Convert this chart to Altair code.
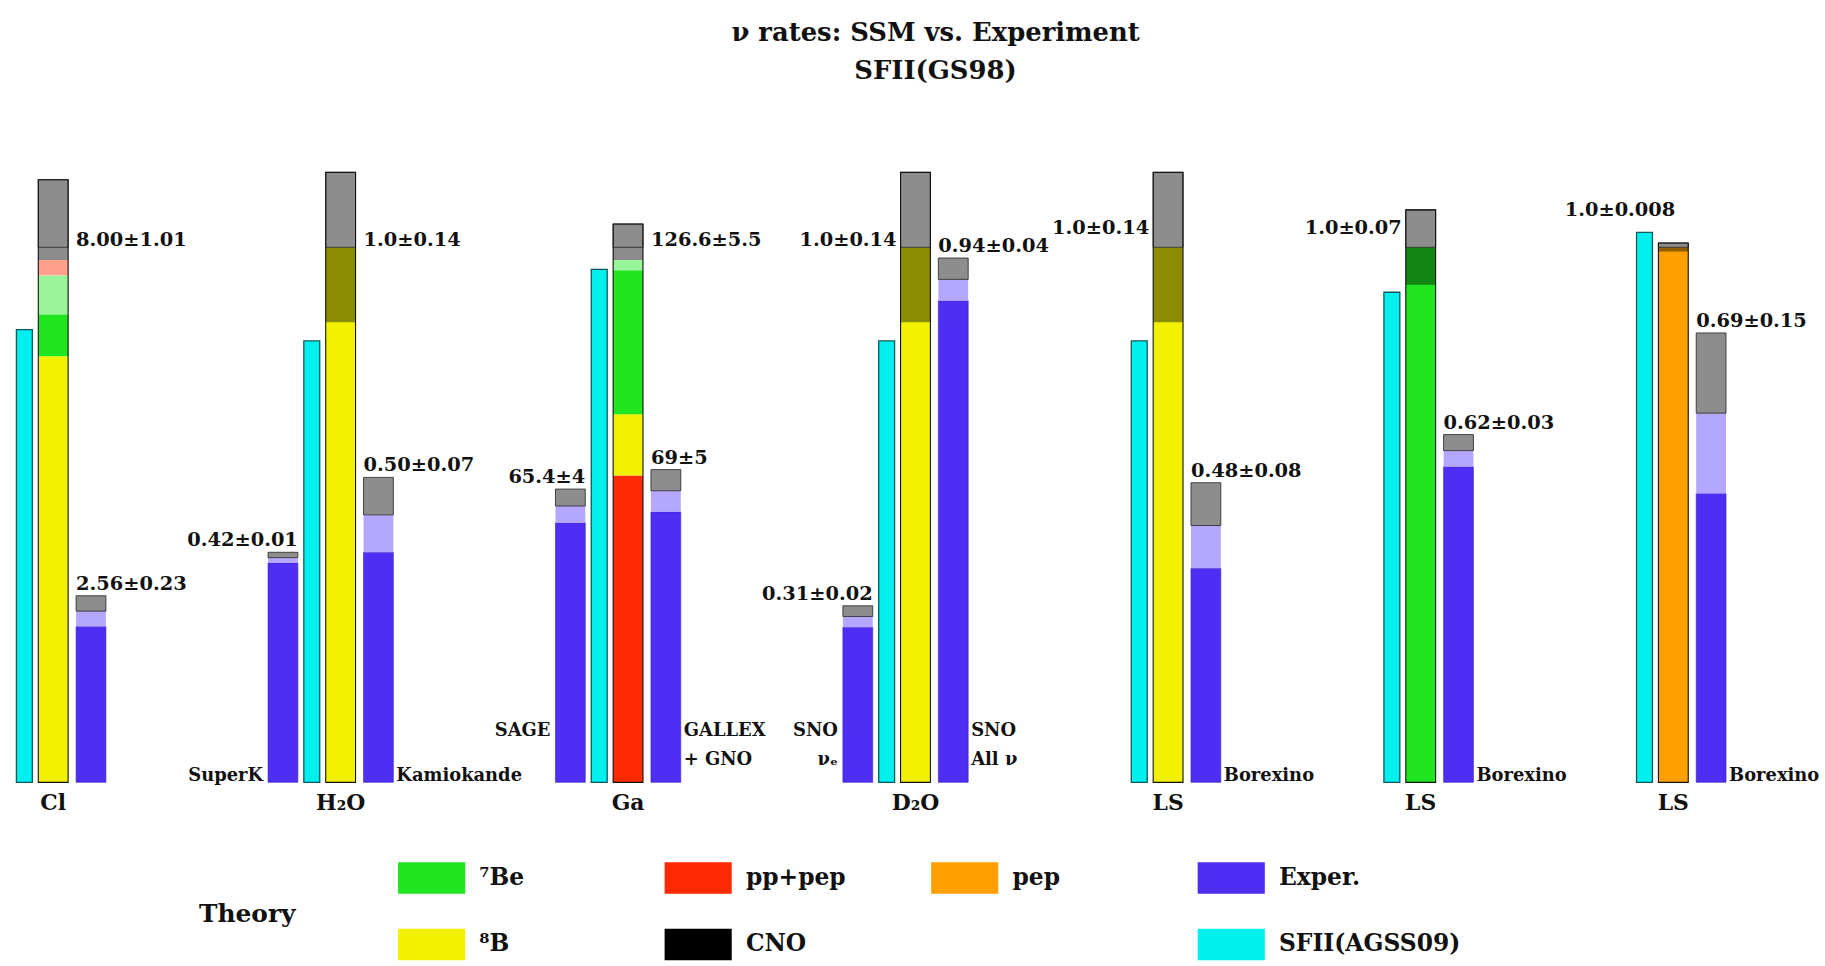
import json
from itertools import accumulate

import altair as alt
import pandas as pd

# ---------------------------------------------------------------- data
GROUPS = ["Cl", "H₂O", "Ga", "D₂O", "LS", "LS", "LS"]

# standard solar model (SFII, GS98) prediction per detector
THEORY_VALUE = [8.00, 1.0, 126.6, 1.0, 1.0, 1.0, 1.0]
THEORY_ERR = [1.01, 0.14, 5.5, 0.14, 0.14, 0.07, 0.008]
THEORY_LABEL = ["8.00±1.01", "1.0±0.14", "126.6±5.5", "1.0±0.14",
                "1.0±0.14", "1.0±0.07", "1.0±0.008"]

# flux contributions stacked in each theory bar, bottom to top
THEORY_PARTS = [
    ["⁸B", "⁷Be", "pp+pep", "CNO"],
    ["⁸B"],
    ["pp+pep", "⁸B", "⁷Be", "CNO"],
    ["⁸B"],
    ["⁸B"],
    ["⁷Be"],
    ["pep"],
]
THEORY_PART_VALUES = [
    [6.37, 1.21, 0.23, 0.19],
    [1.0],
    [72.6, 14.5, 36.5, 3.0],
    [1.0],
    [1.0],
    [1.0],
    [1.0],
]

# SFII with AGSS09 composition
AGSS09_VALUE = [6.77, 0.825, 121.4, 0.825, 0.825, 0.916, 1.028]

# measurements drawn left of the model bars
EXP_LEFT_VALUE = [None, 0.42, 65.4, 0.31, None, None, None]
EXP_LEFT_ERR = [None, 0.01, 4, 0.02, None, None, None]
EXP_LEFT_LABEL = [None, "0.42±0.01", "65.4±4", "0.31±0.02", None, None, None]
EXP_LEFT_NAME = [None, "SuperK", "SAGE", "SNO\nνₑ", None, None, None]

# measurements drawn right of the model bars
EXP_RIGHT_VALUE = [2.56, 0.50, 69, 0.94, 0.48, 0.62, 0.69]
EXP_RIGHT_ERR = [0.23, 0.07, 5, 0.04, 0.08, 0.03, 0.15]
EXP_RIGHT_LABEL = ["2.56±0.23", "0.50±0.07", "69±5", "0.94±0.04",
                   "0.48±0.08", "0.62±0.03", "0.69±0.15"]
EXP_RIGHT_NAME = ["", "Kamiokande", "GALLEX\n+ GNO", "SNO\nAll ν",
                  "Borexino", "Borexino", "Borexino"]

LEGEND_NAMES = ["⁷Be", "pp+pep", "pep", "Exper.", "⁸B", "CNO", " ", "SFII(AGSS09)"]
LEGEND_COLORS = ["#1fe61f", "#ff2a00", "#ffa000", "#4d2ef2",
                 "#f2f200", "#000000", "#ffffff", "#00efef"]

# where each theory label sits relative to its bar
THEORY_LABEL_SIDE = ["right", "right", "right", "left", "left-high", "left-high", "above"]

# ---------------------------------------------------------------- layout
FONT = "DejaVu Serif"
SLOT_STEP = 29
R_SHIFT = 9               # right-hand measurement sits a little apart
LEFT_EXTRA = 6            # extra room before a left-hand measurement
BAR_W = 30
CYAN_W = 16
PANEL_H = 683
CENTRAL_PX = 538          # pixel height of every model central value
GREY = "#8d8d8d"
LILAC = "#b4a7ff"

color_scale = alt.Scale(domain=LEGEND_NAMES, range=LEGEND_COLORS)
legend = alt.Legend(
    orient="none", legendX=190, legendY=745, columns=4, direction="horizontal",
    padding=0,
    symbolType="M-1,-0.47H1V0.47H-1Z", symbolSize=4556, symbolStrokeWidth=0,
    symbolOpacity=1, gridAlign="all", columnPadding=3, rowPadding=17,
    labelFont=FONT, labelFontSize=23.5, labelFontWeight="bold", labelColor="#111",
    labelOffset=14, labelLimit=300,
    title="Theory", titleOrient="left", titleFont=FONT, titleFontSize=25,
    titleFontWeight="bold", titleColor="#111", titlePadding=102,
    titleAnchor="middle", titleBaseline="top",
)


def panel(i):
    has_left = EXP_LEFT_VALUE[i] is not None
    slots = (["L"] if has_left else []) + ["C", "T", "R"]
    extra = LEFT_EXTRA if has_left else 0
    width = SLOT_STEP * len(slots) + extra
    ymax = THEORY_VALUE[i] * PANEL_H / CENTRAL_PX
    yscale = alt.Scale(domain=[0, ymax], nice=False, zero=True)

    x = alt.X(
        "slot:N",
        scale=alt.Scale(domain=slots, paddingInner=0,
                        paddingOuter=extra / 2 / SLOT_STEP, align=1),
        axis=alt.Axis(
            title=None, domain=False, ticks=False, labelAngle=0,
            labelExpr=f"datum.value == 'T' ? {json.dumps(GROUPS[i])} : ''",
            labelFont=FONT, labelFontSize=22, labelFontWeight="bold",
            labelColor="#111", labelPadding=10,
        ),
    )

    def Y(field):
        return alt.Y(f"{field}:Q", scale=yscale, axis=None)

    color = alt.Color("part:N", scale=color_scale, legend=legend)
    txt = dict(font=FONT, fontSize=19.5, fontWeight="bold", color="#111")

    # model with AGSS09 composition
    cyan_df = pd.DataFrame({"slot": ["C"], "part": ["SFII(AGSS09)"],
                            "v": [AGSS09_VALUE[i]]})
    cyan = alt.Chart(cyan_df).mark_bar(
        width=CYAN_W, stroke="#0b5a5a", strokeWidth=1.3
    ).encode(x=x, y=Y("v"), color=color)

    # stacked contributions of the GS98 model
    vals = THEORY_PART_VALUES[i]
    tops = list(accumulate(vals))
    stack_df = pd.DataFrame({
        "slot": "T",
        "part": THEORY_PARTS[i],
        "y0": [t - v for t, v in zip(tops, vals)],
        "y1": tops,
    })
    stack = alt.Chart(stack_df).mark_bar(width=BAR_W).encode(
        x=x, y=Y("y0"), y2="y1", color=color)

    th_df = pd.DataFrame({"slot": ["T"], "v": [THEORY_VALUE[i]],
                          "e": [THEORY_ERR[i]], "label": [THEORY_LABEL[i]]})
    th = alt.Chart(th_df).transform_calculate(
        lo="datum.v - datum.e", hi="datum.v + datum.e")

    multi = len(THEORY_PARTS[i]) > 1
    lower = th.mark_bar(
        width=BAR_W, color="#ffffff" if multi else "#000000",
        opacity=0.55 if multi else 0.42,
    ).encode(x=x, y=Y("lo"), y2="v")
    upper = th.mark_bar(width=BAR_W, color=GREY, stroke="#222",
                        strokeWidth=0.8).encode(x=x, y=Y("v"), y2="hi")
    outline = th.mark_bar(width=BAR_W, filled=False, stroke="#111",
                          strokeWidth=1.1).encode(x=x, y=Y("hi"))

    side = THEORY_LABEL_SIDE[i]
    if side == "right":
        th_text = th.mark_text(align="left", baseline="alphabetic",
                               dx=BAR_W / 2 + 8, dy=-1, **txt).encode(
            x=x, y=Y("v"), text="label:N")
    elif side in ("left", "left-high"):
        th_text = th.mark_text(align="right", baseline="alphabetic",
                               dx=-BAR_W / 2 - 4,
                               dy=-1 if side == "left" else -13, **txt).encode(
            x=x, y=Y("v"), text="label:N")
    else:
        th_text = th.mark_text(align="right", baseline="alphabetic",
                               dx=2, dy=-27, **txt).encode(
            x=x, y=Y("hi"), text="label:N")

    layers = [cyan, stack, lower, upper, outline, th_text]

    # measurements
    rows = []
    if has_left:
        rows.append(dict(slot="L", v=EXP_LEFT_VALUE[i], e=EXP_LEFT_ERR[i],
                         label=EXP_LEFT_LABEL[i], name=EXP_LEFT_NAME[i]))
    rows.append(dict(slot="R", v=EXP_RIGHT_VALUE[i], e=EXP_RIGHT_ERR[i],
                     label=EXP_RIGHT_LABEL[i], name=EXP_RIGHT_NAME[i]))
    exp_df = pd.DataFrame(rows)
    exp_df["part"] = "Exper."
    raised = any("\n" in n for n in exp_df["name"])
    zero = alt.Y(datum=0, scale=yscale, axis=None)

    for r in rows:
        s = r["slot"]
        off = 0 if s == "L" else R_SHIFT
        ex = alt.Chart(exp_df).transform_filter(
            f"datum.slot == '{s}'"
        ).transform_calculate(lo="datum.v - datum.e", hi="datum.v + datum.e")

        base = ex.mark_bar(width=BAR_W, xOffset=off, stroke="#3a22b8",
                           strokeWidth=0.6).encode(x=x, y=Y("lo"), color=color)
        low = ex.mark_bar(width=BAR_W, xOffset=off, color=LILAC).encode(
            x=x, y=Y("lo"), y2="v")
        up = ex.mark_bar(width=BAR_W, xOffset=off, color=GREY, stroke="#222",
                         strokeWidth=0.8).encode(x=x, y=Y("v"), y2="hi")
        # value label above the bar, flush with its outer edge
        if s == "L":
            val = ex.mark_text(align="right", baseline="alphabetic",
                               dx=BAR_W / 2, dy=-6, **txt)
        else:
            val = ex.mark_text(align="left", baseline="alphabetic",
                               dx=off - BAR_W / 2, dy=-6, **txt)
        val = val.encode(x=x, y=Y("hi"), text="label:N")
        # detector name beside the foot of the bar
        name_txt = dict(font=FONT, fontSize=18, fontWeight="bold", color="#111",
                        lineBreak="\n", lineHeight=30, baseline="alphabetic",
                        dy=-47 if raised else -1)
        if s == "L":
            name = ex.mark_text(align="right", dx=-BAR_W / 2 - 5, **name_txt)
        else:
            name = ex.mark_text(align="left", dx=off + BAR_W / 2 + 3, **name_txt)
        name = name.encode(x=x, y=zero, text="name:N")
        layers += [base, low, up, val, name]

    return alt.layer(*layers).properties(width=width, height=PANEL_H)


chart = alt.hconcat(
    *[panel(i) for i in range(len(GROUPS))], spacing=167, bounds="flush"
).resolve_scale(
    x="independent", y="independent", color="shared"
).properties(
    title=alt.TitleParams(
        ["ν rates: SSM vs. Experiment", "SFII(GS98)"],
        font=FONT, fontSize=26, fontWeight="bold", color="#111",
        lineHeight=38, anchor="middle", dx=21, offset=19,
    ),
    padding={"left": 10, "top": 18, "right": 5, "bottom": 5},
).configure_view(stroke=None)

chart.save("out.html", embed_options={"renderer": "svg", "actions": False})
